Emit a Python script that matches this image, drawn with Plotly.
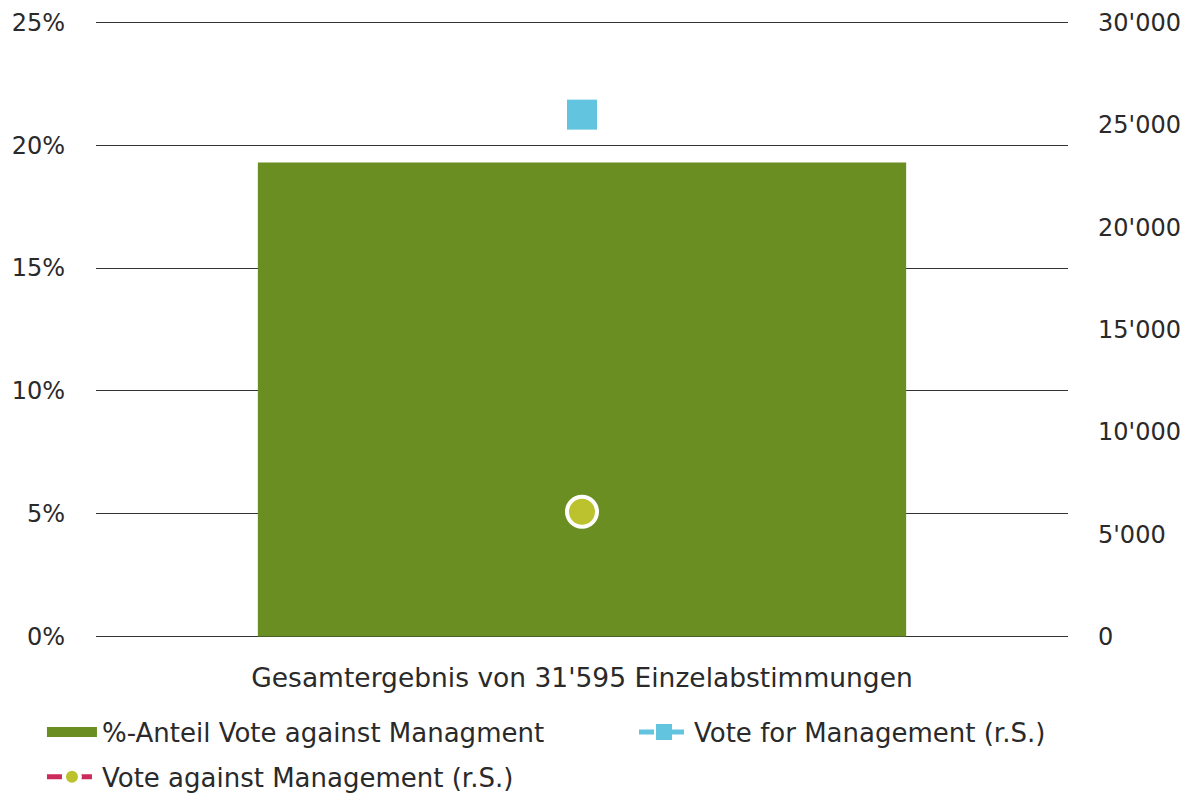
import plotly.graph_objects as go

categories = ["Gesamtergebnis von 31'595 Einzelabstimmungen"]
pct_against = [19.3]
votes_for = [25497]
votes_against = [6098]
left_ticks = [0, 5, 10, 15, 20, 25]
left_labels = ["0%", "5%", "10%", "15%", "20%", "25%"]
right_ticks = [0, 5000, 10000, 15000, 20000, 25000, 30000]
right_labels = ["0", "5'000", "10'000", "15'000", "20'000", "25'000", "30'000"]

FONT = "'DejaVu Sans', sans-serif"
TXT = "#2a2a2a"
GREEN = "#6b8e23"
BLUE = "#62c4de"

fig = go.Figure()
fig.add_trace(go.Bar(
    x=categories, y=pct_against, name="%-Anteil Vote against Managment",
    marker=dict(color=GREEN, line=dict(width=0)), yaxis="y", showlegend=False,
))
# legend proxy for the bar (wide rectangle symbol)
fig.add_trace(go.Scatter(
    x=[None], y=[None], name="%-Anteil Vote against Managment", yaxis="y",
    mode="lines", line=dict(color=GREEN, width=16), hoverinfo="skip",
    legend="legend", legendgroup="a",
))
fig.add_trace(go.Scatter(
    x=categories, y=votes_for, name="Vote for Management (r.S.)", yaxis="y2",
    mode="lines+markers",
    line=dict(color=BLUE, width=5, dash="dash"),
    marker=dict(symbol="square", size=30, color=BLUE),
    legend="legend2", legendgroup="b",
))
fig.add_trace(go.Scatter(
    x=categories, y=votes_against, name="Vote against Management (r.S.)", yaxis="y2",
    mode="lines+markers",
    line=dict(color="#cc2a5a", width=5, dash="dash"),
    marker=dict(symbol="circle", size=30, color="#bcc22e", line=dict(color="white", width=4)),
    legend="legend", legendgroup="c",
))

leg_common = dict(
    orientation="v", xanchor="left", yanchor="top",
    font=dict(family=FONT, size=26, color=TXT), bgcolor="rgba(0,0,0,0)",
    itemwidth=50, traceorder="grouped", tracegroupgap=8,
)

fig.update_layout(
    width=1190, height=797,
    margin=dict(l=96, r=122, t=20, b=158, autoexpand=False),
    paper_bgcolor="white", plot_bgcolor="white",
    bargap=0.333,
    font=dict(family=FONT, size=24, color=TXT),
    showlegend=True,
    legend=dict(x=-0.0556, y=-0.1124, **leg_common),
    legend2=dict(x=0.5535, y=-0.1124, **leg_common),
    xaxis=dict(showgrid=False, showline=False, zeroline=False, ticks="", automargin=False,
               tickfont=dict(size=26.5, color=TXT), ticklabelstandoff=20),
    yaxis=dict(range=[-0.1, 25.1], tickvals=left_ticks, ticktext=left_labels,
               showgrid=True, gridcolor="#333333", gridwidth=1, automargin=False,
               zeroline=False, showline=False, ticks="",
               ticklabelstandoff=30, tickfont=dict(size=24, color=TXT)),
    yaxis2=dict(range=[-120, 30120], tickvals=right_ticks, ticktext=right_labels,
                overlaying="y", side="right", automargin=False,
                showgrid=False, zeroline=False, showline=False, ticks="",
                ticklabelstandoff=29, tickfont=dict(size=24, color=TXT)),
)

fig.write_html(
    "out.html",
    config={"displayModeBar": False},
    post_script="document.body.style.margin='0';document.body.style.overflow='hidden';",
)
